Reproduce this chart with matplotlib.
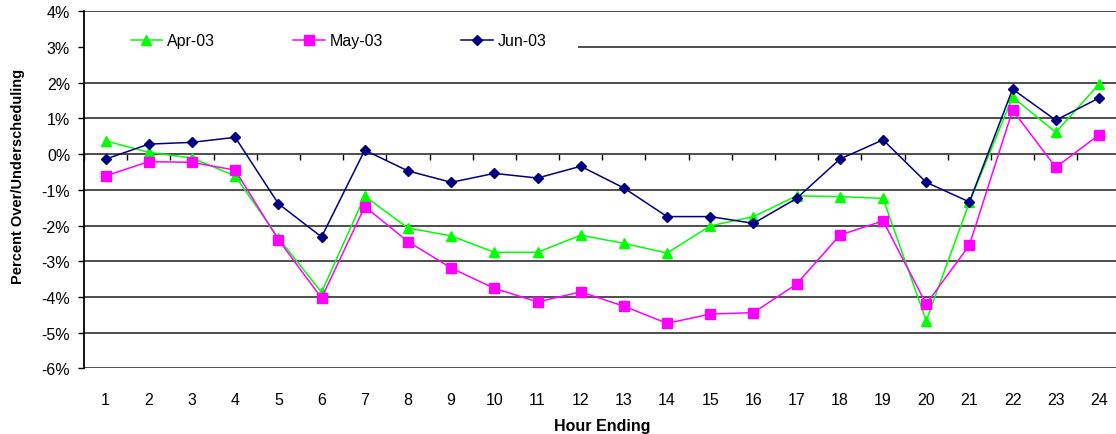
import matplotlib.pyplot as plt
from matplotlib.patches import Rectangle
from matplotlib.ticker import FuncFormatter

plt.rcParams['font.family'] = ['Liberation Sans', 'DejaVu Sans']

hours = list(range(1, 25))

# percent over/underscheduling by hour ending
apr_03 = [0.37, 0.05, -0.11, -0.61, -2.35, -3.87, -1.18, -2.07, -2.29, -2.75, -2.75, -2.27,
          -2.50, -2.77, -2.01, -1.75, -1.17, -1.19, -1.24, -4.67, -1.35, 1.60, 0.61, 1.96]
may_03 = [-0.61, -0.21, -0.23, -0.45, -2.40, -4.03, -1.47, -2.45, -3.19, -3.76, -4.14, -3.86,
          -4.26, -4.74, -4.48, -4.44, -3.64, -2.27, -1.87, -4.20, -2.55, 1.23, -0.37, 0.54]
jun_03 = [-0.14, 0.28, 0.33, 0.47, -1.39, -2.32, 0.11, -0.47, -0.79, -0.54, -0.67, -0.34,
          -0.95, -1.75, -1.75, -1.94, -1.24, -0.14, 0.40, -0.79, -1.34, 1.82, 0.95, 1.57]

y_ticks = list(range(-6, 5))

fig = plt.figure(figsize=(11.16, 4.35), dpi=100)
ax = fig.add_axes([0.0753, 0.151, 0.9288, 0.8207])

ax.plot(hours, apr_03, color='#00FF00', marker='^', markersize=7.5, lw=1.1, label='Apr-03', zorder=4)
ax.plot(hours, may_03, color='#FF00FF', marker='s', markersize=6.5, lw=1.1, label='May-03', zorder=4)
ax.plot(hours, jun_03, color='#000080', marker='D', markersize=5.5, lw=1.1, label='Jun-03', zorder=5)

ax.set_xlim(0.5, 24.5)
ax.set_ylim(-6, 4)
ax.set_yticks(y_ticks)
ax.yaxis.set_major_formatter(FuncFormatter(lambda v, p: f'{int(v)}%'))
ax.set_xticks(hours)
ax.set_xticklabels([str(h) for h in hours])

# gridlines
for v in y_ticks:
    ax.axhline(v, color='#404040', lw=1.3, zorder=1)

for s in ['top', 'right', 'bottom']:
    ax.spines[s].set_visible(False)
ax.spines['left'].set_linewidth(1.3)
ax.spines['left'].set_zorder(6)

ax.tick_params(axis='y', direction='out', length=4, width=1, pad=6, labelsize=11.5)
ax.tick_params(axis='x', length=0, pad=17, labelsize=11.5)

# category axis line at 0% with tick marks between categories
sec = ax.secondary_xaxis(0.6)
sec.xaxis.set_ticks_position('bottom')
sec.set_xticks([h + 0.5 for h in range(0, 25)])
sec.set_xticklabels([])
sec.tick_params(direction='out', length=4, width=1, labelbottom=False, labeltop=False)
for s in sec.spines.values():
    s.set_visible(False)

ax.set_xlabel('Hour Ending', fontsize=11.5, fontweight='bold', labelpad=8)
ax.set_ylabel('Percent Over/Underscheduling', fontsize=10.5, fontweight='bold')
ax.yaxis.set_label_coords(-0.057, 0.54)

# white legend area covering the 3% gridline
ax.add_patch(Rectangle((0, 0.84), 0.477, 0.13, transform=ax.transAxes,
                       facecolor='white', edgecolor='none', zorder=2))
ax.legend(loc='center left', bbox_to_anchor=(0.045, 0.917), ncol=3, frameon=False,
          fontsize=11.5, handlelength=1.95, handletextpad=0.33, columnspacing=4.9,
          borderaxespad=0, borderpad=0)

fig.savefig('out.png', dpi=100)
